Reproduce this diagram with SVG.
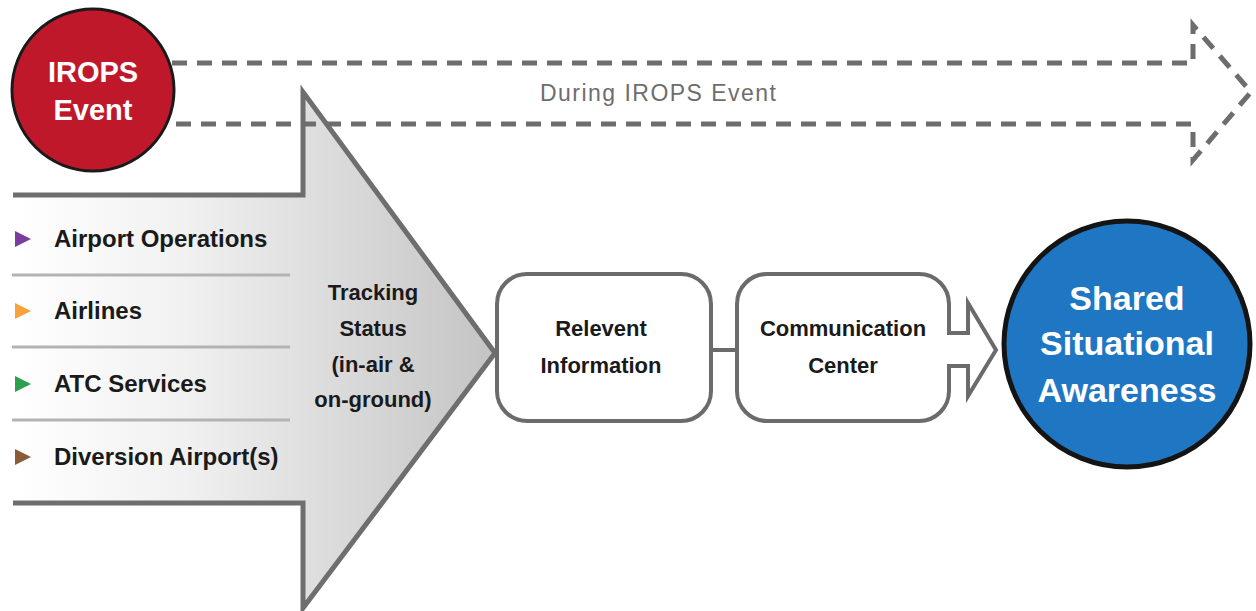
<svg xmlns="http://www.w3.org/2000/svg" width="1256" height="611" viewBox="0 0 1256 611">
<defs>
<linearGradient id="grad" x1="0" y1="0" x2="1" y2="0">
<stop offset="0" stop-color="#ffffff"/>
<stop offset="0.35" stop-color="#f1f1f1"/>
<stop offset="1" stop-color="#c4c4c5"/>
</linearGradient>
<style>
.bold{font-family:"Liberation Sans",Arial,sans-serif;font-weight:bold}
.item{font-size:24px;fill:#1a1a1a}
.mid{font-size:22px;fill:#1a1a1a;text-anchor:middle}
.box{fill:#ffffff;stroke:#6b6b6b;stroke-width:4}
.sep{stroke:#b3b3b3;stroke-width:3}
.dash{fill:none;stroke:#6d6d6d;stroke-width:5;stroke-dasharray:15 10}
.wt{fill:#ffffff;text-anchor:middle}
</style>
</defs>
<rect width="1256" height="611" fill="#ffffff"/>
<g id="input-arrow">
<polygon points="13,195 303,195 303,92 495,353 303,608 303,503 13,503" fill="url(#grad)"/>
<path d="M13,195 H303 V92 L495,353 L303,608 V503 H13" fill="none" stroke="#6e6e6e" stroke-width="5"/>
<line class="sep" x1="12" y1="275" x2="290" y2="275"/>
<line class="sep" x1="12" y1="347" x2="290" y2="347"/>
<line class="sep" x1="12" y1="420" x2="290" y2="420"/>
<polygon points="15,231 31,239 15,247" fill="#7a3c9e"/>
<polygon points="15,303 31,311 15,319" fill="#f7a23a"/>
<polygon points="15,376 31,384 15,392" fill="#2e9e4b"/>
<polygon points="15,449 31,457 15,465" fill="#8a5a3a"/>
<text class="bold item" x="54" y="247">Airport Operations</text>
<text class="bold item" x="54" y="319">Airlines</text>
<text class="bold item" x="54" y="392">ATC Services</text>
<text class="bold item" x="54" y="465">Diversion Airport(s)</text>
<text class="bold mid" x="373" y="300">Tracking</text>
<text class="bold mid" x="373" y="336">Status</text>
<text class="bold mid" x="373" y="372">(in-air &amp;</text>
<text class="bold mid" x="373" y="407">on-ground)</text>
</g>
<g id="connectors">
<path class="dash" d="M172,63 H1193 V25 L1251,92 L1193,160 V124 H172"/>
<line x1="711" y1="350" x2="737" y2="350" stroke="#6b6b6b" stroke-width="4"/>
</g>
<g id="during-label">
<text x="658" y="101" font-family="'Liberation Sans',Arial,sans-serif" font-size="23" fill="#6d6d6d" text-anchor="middle" textLength="236" lengthAdjust="spacing">During IROPS Event</text>
</g>
<g id="irops-event">
<circle cx="93" cy="90" r="81" fill="#c0182b" stroke="#1a1a1a" stroke-width="3"/>
<text class="bold wt" x="93" y="82" font-size="29">IROPS</text>
<text class="bold wt" x="93" y="120" font-size="29">Event</text>
</g>
<g id="relevent-information">
<rect class="box" x="497" y="274" width="214" height="147" rx="30"/>
<text class="bold mid" x="601" y="336">Relevent</text>
<text class="bold mid" x="601" y="373">Information</text>
</g>
<g id="communication-center">
<rect class="box" x="737" y="274" width="212" height="147" rx="30"/>
<text class="bold mid" x="843" y="336">Communication</text>
<text class="bold mid" x="843" y="373">Center</text>
</g>
<g id="cc-arrow">
<path d="M949,333 H968 V303 L996,350 L968,396 V366 H949" fill="#ffffff" stroke="#6b6b6b" stroke-width="4"/>
<rect x="945" y="335" width="22" height="29" fill="#ffffff"/>
</g>
<g id="shared-awareness">
<circle cx="1127" cy="344" r="123" fill="#1f77c3" stroke="#141414" stroke-width="5"/>
<text class="bold wt" x="1127" y="310" font-size="34">Shared</text>
<text class="bold wt" x="1127" y="355" font-size="34">Situational</text>
<text class="bold wt" x="1127" y="402" font-size="34">Awareness</text>
</g>
</svg>
